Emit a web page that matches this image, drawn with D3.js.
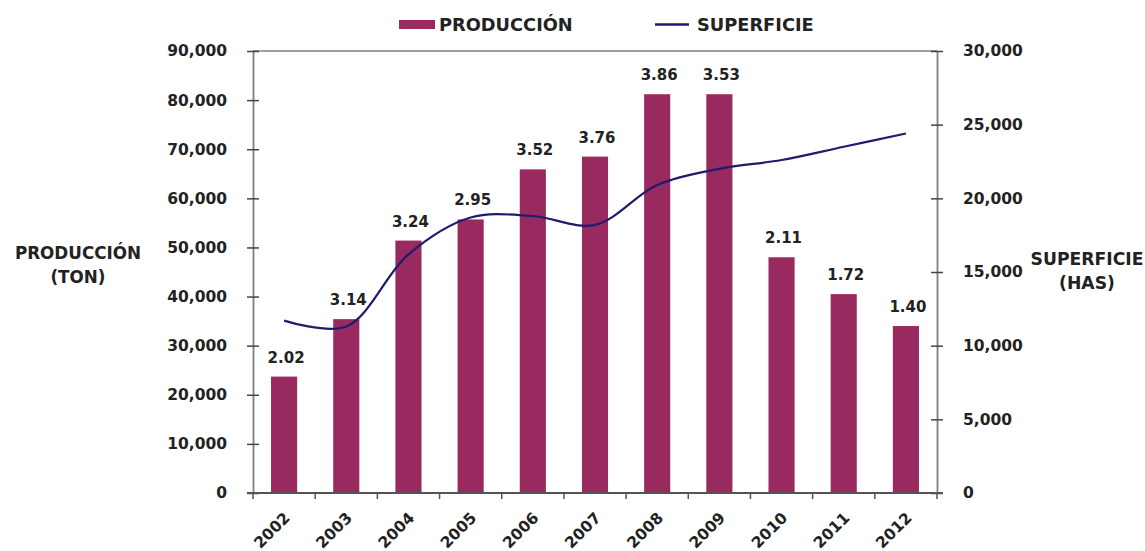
<!DOCTYPE html>
<html>
<head>
<meta charset="utf-8">
<script src="https://cdn.jsdelivr.net/npm/d3@7"></script>
<style>
  html, body { margin: 0; padding: 0; background: #fff; }
  svg text { font-family: "DejaVu Sans", Verdana, sans-serif; font-weight: bold; fill: #222; }
</style>
</head>
<body>
<svg id="chart" width="1145" height="551"></svg>
<script>
const years = ["2002","2003","2004","2005","2006","2007","2008","2009","2010","2011","2012"];
const produccion = [23700, 35400, 51400, 55700, 65900, 68500, 81200, 81200, 48000, 40500, 34000];
const superficie = [11700, 11300, 16200, 18700, 18800, 18200, 20900, 22000, 22600, 23500, 24400];
const rendimiento = ["2.02","3.14","3.24","2.95","3.52","3.76","3.86","3.53","2.11","1.72","1.40"];
const leftTicks = [0, 10000, 20000, 30000, 40000, 50000, 60000, 70000, 80000, 90000];
const rightTicks = [0, 5000, 10000, 15000, 20000, 25000, 30000];

const svg = d3.select("#chart");
const L = 253, R = 937, T = 51, B = 493;
const barColor = "#992a60", lineColor = "#1f1b6e", axisColor = "#7f7f7f";
const fmt = d3.format(",");

const x = d3.scaleBand().domain(years).range([L, R]).paddingInner(0.58).paddingOuter(0.29);
const yL = d3.scaleLinear().domain([0, 90000]).range([B, T]);
const yR = d3.scaleLinear().domain([0, 30000]).range([B, T]);

// top border
svg.append("line").attr("x1", L).attr("x2", R).attr("y1", T).attr("y2", T)
  .attr("stroke", axisColor).attr("stroke-width", 1.5);

// bars
svg.append("g").selectAll("rect").data(years).join("rect")
  .attr("x", d => x(d))
  .attr("width", x.bandwidth())
  .attr("y", (d, i) => yL(produccion[i]))
  .attr("height", (d, i) => B - yL(produccion[i]))
  .attr("fill", barColor);

// bar labels
svg.append("g").selectAll("text").data(years).join("text")
  .attr("x", d => x(d) + x.bandwidth() / 2 + 2)
  .attr("y", (d, i) => yL(produccion[i]) - 14)
  .attr("text-anchor", "middle")
  .attr("font-size", 15)
  .text((d, i) => rendimiento[i]);

// left axis
const gL = svg.append("g").attr("transform", `translate(${L},0)`)
  .call(d3.axisLeft(yL).tickValues(leftTicks).tickFormat(fmt).tickSizeInner(6).tickSizeOuter(0).tickPadding(20));
gL.select(".domain").attr("stroke", axisColor).attr("stroke-width", 1.8);
gL.selectAll(".tick line").attr("stroke", "#444").attr("stroke-width", 1.5).attr("x2", 6).attr("x1", -6);
gL.selectAll(".tick text").attr("font-size", 15.5).attr("font-family", "DejaVu Sans").attr("font-weight", "bold").attr("fill", "#222");

// right axis
const gR = svg.append("g").attr("transform", `translate(${R},0)`)
  .call(d3.axisRight(yR).tickValues(rightTicks).tickFormat(fmt).tickSizeInner(6).tickSizeOuter(0).tickPadding(20));
gR.select(".domain").attr("stroke", axisColor).attr("stroke-width", 1.8);
gR.selectAll(".tick line").attr("stroke", "#444").attr("stroke-width", 1.5).attr("x1", -6).attr("x2", 6);
gR.selectAll(".tick text").attr("font-size", 15.5).attr("font-family", "DejaVu Sans").attr("font-weight", "bold").attr("fill", "#222");

// bottom axis
const step = x.step();
const gB = svg.append("g").attr("transform", `translate(0,${B})`);
gB.append("line").attr("x1", L - 6).attr("x2", R + 6).attr("stroke", "#555").attr("stroke-width", 1.8);
gB.selectAll("line.tk").data(d3.range(years.length + 1)).join("line").attr("class", "tk")
  .attr("x1", i => L + i * step).attr("x2", i => L + i * step)
  .attr("y1", 0).attr("y2", 6).attr("stroke", "#555").attr("stroke-width", 1.5);
gB.selectAll("text").data(years).join("text")
  .attr("transform", d => `translate(${x(d) + x.bandwidth() / 2 + 3},${22}) rotate(-45)`)
  .attr("text-anchor", "end")
  .attr("font-size", 15.5)
  .attr("dy", "0.35em")
  .text(d => d);

// superficie line
const line = d3.line()
  .x((d, i) => x(years[i]) + x.bandwidth() / 2)
  .y(d => yR(d))
  .curve(d3.curveCatmullRom.alpha(0.5));
svg.append("path").datum(superficie).attr("d", line)
  .attr("fill", "none").attr("stroke", lineColor).attr("stroke-width", 2.2);

// axis titles
const tl = svg.append("text").attr("text-anchor", "middle").attr("font-size", 16.8);
tl.append("tspan").attr("x", 78).attr("y", 259).text("PRODUCCIÓN");
tl.append("tspan").attr("x", 78).attr("y", 283).text("(TON)");
const tr = svg.append("text").attr("text-anchor", "middle").attr("font-size", 17.2);
tr.append("tspan").attr("x", 1087).attr("y", 265).text("SUPERFICIE");
tr.append("tspan").attr("x", 1087).attr("y", 289).text("(HAS)");

// legend
svg.append("rect").attr("x", 399).attr("y", 20).attr("width", 36).attr("height", 9).attr("fill", barColor);
svg.append("text").attr("x", 439).attr("y", 31).attr("font-size", 17.8).text("PRODUCCIÓN");
svg.append("line").attr("x1", 655).attr("x2", 689).attr("y1", 24.5).attr("y2", 24.5)
  .attr("stroke", lineColor).attr("stroke-width", 2.5);
svg.append("text").attr("x", 697).attr("y", 31).attr("font-size", 17.8).text("SUPERFICIE");
</script>
</body>
</html>
